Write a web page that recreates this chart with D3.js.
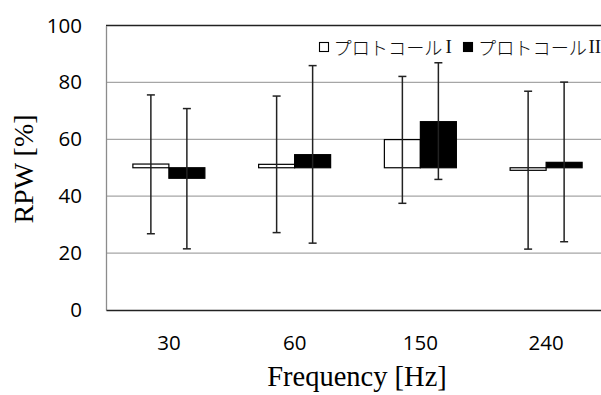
<!DOCTYPE html>
<html>
<head>
<meta charset="utf-8">
<script src="https://cdn.jsdelivr.net/npm/d3@7"></script>
<style>
  html, body { margin: 0; padding: 0; background: #fff; }
  svg { display: block; }
</style>
</head>
<body>
<svg id="chart" width="601" height="395"></svg>
<script>
// Stimulation frequencies
const categories = ["30", "60", "150", "240"];
// Series names (katakana part + roman numeral)
const seriesKana = ["プロトコール", "プロトコール"];
const seriesNumeral = ["I", "II"];
const series = seriesKana.map((k, i) => k + seriesNumeral[i]);
// Mean RPW [%] per frequency
const protocol1 = [51.3, 51.2, 59.9, 49.1];
const protocol2 = [46.3, 54.6, 66.2, 51.9];
// Upper / lower ends of the error bars
const protocol1Upper = [75.6, 75.2, 82.1, 76.9];
const protocol1Lower = [26.8, 27.2, 37.5, 21.4];
const protocol2Upper = [70.8, 85.9, 86.9, 80.1];
const protocol2Lower = [21.5, 23.5, 45.9, 24.0];
// Bars grow from this reference level
const baseline = 50;
const yTicks = [0, 20, 40, 60, 80, 100];

const rows = categories.map((c, i) => [
  { cat: c, s: series[0], v: protocol1[i], hi: protocol1Upper[i], lo: protocol1Lower[i], fill: "#ffffff" },
  { cat: c, s: series[1], v: protocol2[i], hi: protocol2Upper[i], lo: protocol2Lower[i], fill: "#000000" }
]).flat();

const svg = d3.select("#chart");
const plotL = 106, plotR = 609, plotT = 25.5, plotB = 310;

const y = d3.scaleLinear().domain([0, 100]).range([plotB, plotT]);
const x = d3.scaleBand().domain(categories).range([plotL, plotR]).padding(0);
const groupW = 72;
const x1 = d3.scaleBand().domain(series)
  .range([x.bandwidth() / 2 - groupW / 2, x.bandwidth() / 2 + groupW / 2]).padding(0);

// Horizontal gridlines
svg.append("g")
  .selectAll("line")
  .data(yTicks.filter(t => t > 0 && t < 100))
  .join("line")
  .attr("x1", plotL).attr("x2", plotR)
  .attr("y1", d => y(d)).attr("y2", d => y(d))
  .attr("stroke", "#a6a6a6").attr("stroke-width", 1.2);

// Frame: top and bottom dark, left grey
svg.append("line").attr("x1", plotL).attr("x2", plotR).attr("y1", y(100)).attr("y2", y(100))
  .attr("stroke", "#222").attr("stroke-width", 1.5);

const tickFont = "'Open Sans', 'Noto Sans', sans-serif";

// Y axis with labels
const yAxis = d3.axisLeft(y).tickValues(yTicks).tickSize(0).tickPadding(24);
const gy = svg.append("g").attr("transform", `translate(${plotL},0)`).call(yAxis);
gy.select(".domain").attr("stroke", "#8c8c8c").attr("stroke-width", 1.3);
gy.selectAll("text")
  .attr("font-family", tickFont)
  .attr("font-size", 20.5).attr("fill", "#000");

// X axis with labels
const xAxis = d3.axisBottom(x).tickSize(0).tickPadding(25);
const gx = svg.append("g").attr("transform", `translate(0,${plotB})`).call(xAxis);
gx.select(".domain").attr("stroke", "#222").attr("stroke-width", 1.6);
gx.selectAll("text")
  .attr("font-family", tickFont)
  .attr("font-size", 20.5).attr("fill", "#000");

// Bars from the baseline level
svg.append("g")
  .selectAll("rect")
  .data(rows)
  .join("rect")
  .attr("x", d => x(d.cat) + x1(d.s))
  .attr("width", x1.bandwidth())
  .attr("y", d => Math.min(y(d.v), y(baseline)))
  .attr("height", d => Math.abs(y(d.v) - y(baseline)))
  .attr("fill", d => d.fill)
  .attr("stroke", "#000").attr("stroke-width", 1.2);

// Error bars
const eb = svg.append("g").selectAll("g").data(rows).join("g")
  .attr("transform", d => `translate(${x(d.cat) + x1(d.s) + x1.bandwidth() / 2},0)`);
eb.append("line").attr("y1", d => y(d.hi)).attr("y2", d => y(d.lo))
  .attr("stroke", "#222").attr("stroke-width", 1.5);
eb.append("line").attr("x1", -4).attr("x2", 4).attr("y1", d => y(d.hi)).attr("y2", d => y(d.hi))
  .attr("stroke", "#222").attr("stroke-width", 1.5);
eb.append("line").attr("x1", -4).attr("x2", 4).attr("y1", d => y(d.lo)).attr("y2", d => y(d.lo))
  .attr("stroke", "#222").attr("stroke-width", 1.5);

// Legend: marker square, katakana label, roman numeral
const legend = [
  { kana: seriesKana[0], num: seriesNumeral[0], fill: "#ffffff", sx: 319.5, tx: 333.5, nx: 445.5 },
  { kana: seriesKana[1], num: seriesNumeral[1], fill: "#000000", sx: 463.5, tx: 478, nx: 588.5 }
];
const lg = svg.append("g").selectAll("g").data(legend).join("g");
lg.append("rect")
  .attr("x", d => d.sx).attr("y", 42.5).attr("width", 9).attr("height", 9)
  .attr("fill", d => d.fill).attr("stroke", "#000").attr("stroke-width", 1.1);
lg.append("text")
  .attr("x", d => d.tx).attr("y", 46.5)
  .attr("dominant-baseline", "central")
  .attr("textLength", 109).attr("lengthAdjust", "spacingAndGlyphs")
  .attr("font-family", "'Noto Sans CJK JP', sans-serif")
  .attr("font-weight", 300)
  .attr("font-size", 18.5).attr("fill", "#111")
  .text(d => d.kana);
lg.append("text")
  .attr("x", d => d.nx).attr("y", 53)
  .attr("font-family", "'Liberation Serif', 'DejaVu Serif', serif")
  .attr("font-size", 19).attr("fill", "#111")
  .text(d => d.num);

// Axis titles
svg.append("text")
  .attr("transform", `translate(33,169) rotate(-90)`)
  .attr("text-anchor", "middle")
  .attr("font-family", "'Liberation Serif', 'DejaVu Serif', serif")
  .attr("font-size", 28).attr("fill", "#000")
  .text("RPW [%]");

svg.append("text")
  .attr("x", 357).attr("y", 386)
  .attr("text-anchor", "middle")
  .attr("font-family", "'Liberation Serif', 'DejaVu Serif', serif")
  .attr("font-size", 28.5).attr("fill", "#000")
  .text("Frequency [Hz]");
</script>
</body>
</html>
